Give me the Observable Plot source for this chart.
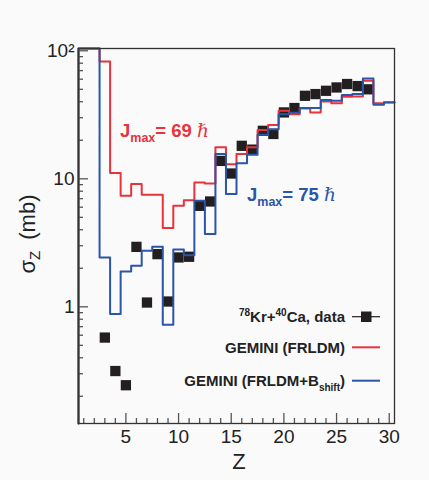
<!DOCTYPE html>
<html><head><meta charset="utf-8">
<script src="https://cdn.jsdelivr.net/npm/d3@7"></script>
<script src="https://cdn.jsdelivr.net/npm/@observablehq/plot@0.6"></script>
<style>
html,body{margin:0;padding:0;background:#fafafa;}
#chart{width:429px;height:480px;}
</style></head><body><div id="chart"></div>
<script>
// Bin centres (Z) of the two GEMINI histograms
const Z = [1,2,3,4,5,6,7,8,9,10,11,12,13,14,15,16,17,18,19,20,21,22,23,24,25,26,27,28,29,30];
// GEMINI (FRLDM), Jmax = 69 hbar  (Z = 1,2 are off the top of the frame)
const frldm = [150,130,82.5,11.1,7.37,9.09,7.5,7.5,4.12,6.15,6.81,9.36,9.2,17.6,13.0,15.6,17.6,24.1,26.3,34.0,32.0,35.4,33.0,40.2,39.0,43.7,44.0,58.3,39.0,39.7];
// GEMINI (FRLDM+Bshift), Jmax = 75 hbar
const bshift = [150,150,2.43,0.877,1.89,2.09,2.74,2.94,0.723,2.80,2.53,6.73,3.70,15.6,7.6,13.2,15.4,22.1,24.4,32.0,32.8,35.7,35.7,41.2,40.7,45.1,45.9,60.8,37.8,39.4];
// 78Kr+40Ca data
const dataZ = [3,4,5,6,7,8,9,10,11,12,13,14,15,16,17,18,19,20,21,22,23,24,25,26,27,28];
const dataSigma = [0.575,0.315,0.244,2.94,1.08,2.58,1.1,2.43,2.46,6.15,6.65,13.8,11.0,18.1,16.9,23.7,22.4,33.0,35.7,44.5,45.9,48.7,51.7,55.0,53.0,50.0];
// Axes
const xDomain = [0.5, 30.5];
const yDomain = [0.1226, 104.2];
const xTicks = [5,10,15,20,25,30];
const xMinorTicks = [1,2,3,4,6,7,8,9,11,12,13,14,16,17,18,19,21,22,23,24,26,27,28,29];
const yTicks = [1,10,100];
const yTickLabels = ["1","10","10²"];
const yMinorTicks = [0.2,0.3,0.4,0.5,0.6,0.7,0.8,0.9,2,3,4,5,6,7,8,9,20,30,40,50,60,70,80,90];

const RED = "#e8333c", BLUE = "#2b55a6", BLACK = "#231f20", AXIS = "#555";
const W = 429, H = 480, mL = 78, mR = 35, mT = 48, mB = 57;
const plotW = W - mL - mR, plotH = H - mT - mB;

const steps = vals => [{x: xDomain[0], y: yDomain[0]}]
  .concat(vals.map((v, i) => ({x: Z[i] - 0.5, y: v})))
  .concat([{x: xDomain[1], y: vals[vals.length - 1]}]);
const pts = dataZ.map((z, i) => ({z, s: dataSigma[i]}));
const yLab = new Map(yTicks.map((t, i) => [t, yTickLabels[i]]));

const chart = Plot.plot({
  width: W, height: H,
  marginLeft: mL, marginRight: mR, marginTop: mT, marginBottom: mB,
  style: {background: "transparent", fontFamily: "'Liberation Sans', Arial, Helvetica, sans-serif"},
  x: {domain: xDomain},
  y: {type: "log", domain: yDomain, clamp: true},
  marks: [
    Plot.dot(pts, {x: "z", y: "s", symbol: "square", r: 5.8, fill: BLACK}),
    Plot.line(steps(frldm), {x: "x", y: "y", curve: "step-after", stroke: RED, strokeWidth: 2}),
    Plot.line(steps(bshift), {x: "x", y: "y", curve: "step-after", stroke: BLUE, strokeWidth: 2}),
    Plot.tickY(yTicks, {y: d => d, insetRight: plotW - 10, stroke: AXIS, strokeWidth: 1.3}),
    Plot.tickY(yMinorTicks, {y: d => d, insetRight: plotW - 5, stroke: AXIS, strokeWidth: 1.3}),
    Plot.tickX(xTicks, {x: d => d, insetTop: plotH - 10, stroke: AXIS, strokeWidth: 1.3}),
    Plot.tickX(xMinorTicks, {x: d => d, insetTop: plotH - 5, stroke: AXIS, strokeWidth: 1.3}),
    Plot.frame({stroke: "#333", strokeWidth: 1.3}),
    Plot.axisY(yTicks, {tickSize: 0, tickPadding: 4, tickFormat: d => yLab.get(d), fontSize: 19, label: null, fill: "#222"}),
    Plot.axisX(xTicks, {tickSize: 0, tickPadding: 6, fontSize: 19, label: null, fill: "#222"})
  ]
});
document.getElementById("chart").appendChild(chart);

const svg = d3.select(chart);
const F = "'Liberation Sans', Arial, Helvetica, sans-serif";
// Axis titles
svg.append("text").attr("x", 239).attr("y", 469).attr("text-anchor", "middle")
  .attr("font-family", F).attr("font-size", 22).attr("fill", "#222").text("Z");
const yt = svg.append("text").attr("transform", "translate(35,234) rotate(-90)")
  .attr("text-anchor", "middle").attr("font-family", F).attr("font-size", 22).attr("fill", "#222");
yt.append("tspan").text("σ");
yt.append("tspan").attr("font-size", 15).attr("dy", 5).text("Z");
yt.append("tspan").attr("dy", -5).text("\u2002(mb)");

// Jmax annotations
function jmax(x, y, color, val) {
  const t = svg.append("text").attr("x", x).attr("y", y).attr("text-anchor", "start").attr("font-family", F)
    .attr("font-weight", "bold").attr("font-size", 18.5).attr("fill", color);
  t.append("tspan").text("J");
  t.append("tspan").attr("font-size", 12.5).attr("dy", 5).text("max");
  t.append("tspan").attr("dy", -5).text("= " + val + " ");
  t.append("tspan").attr("font-style", "italic").attr("font-weight", "normal")
    .attr("font-family", "'DejaVu Serif', serif").text("ℏ");
}
jmax(120, 137, RED, 69);
jmax(247, 201, BLUE, 75);

// Legend
const legX = 345, lx1 = 352, lx2 = 380;
function legText(y) {
  return svg.append("text").attr("x", legX).attr("y", y + 5.5).attr("text-anchor", "end")
    .attr("font-family", F).attr("font-weight", "bold").attr("font-size", 15).attr("fill", "#222");
}
let t1 = legText(316.7);
t1.append("tspan").attr("font-size", 10).attr("dy", -6).text("78");
t1.append("tspan").attr("dy", 6).text("Kr+");
t1.append("tspan").attr("font-size", 10).attr("dy", -6).text("40");
t1.append("tspan").attr("dy", 6).text("Ca, data");
let t2 = legText(347.3); t2.text("GEMINI (FRLDM)");
let t3 = legText(380.7);
t3.append("tspan").text("GEMINI (FRLDM+B");
t3.append("tspan").attr("font-size", 10).attr("dy", 5).text("shift");
t3.append("tspan").attr("dy", -5).text(")");
svg.append("line").attr("x1", lx1).attr("x2", lx2).attr("y1", 316.7).attr("y2", 316.7).attr("stroke", BLACK).attr("stroke-width", 1.2);
svg.append("rect").attr("x", 361).attr("y", 311.5).attr("width", 10.5).attr("height", 10.5).attr("fill", BLACK);
svg.append("line").attr("x1", lx1).attr("x2", lx2).attr("y1", 347.3).attr("y2", 347.3).attr("stroke", RED).attr("stroke-width", 2);
svg.append("line").attr("x1", lx1).attr("x2", lx2).attr("y1", 380.7).attr("y2", 380.7).attr("stroke", BLUE).attr("stroke-width", 2);
</script>
</body></html>
